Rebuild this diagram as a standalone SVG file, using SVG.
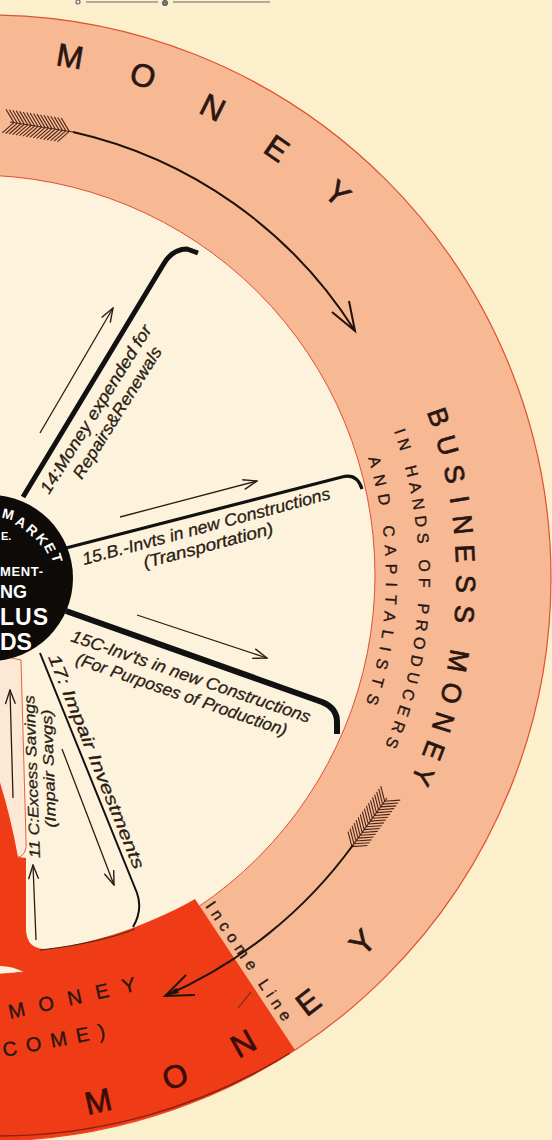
<svg xmlns="http://www.w3.org/2000/svg" width="552" height="1140" viewBox="0 0 552 1140">
<defs>
<style>
.lbl{font-family:"Liberation Sans Narrow","Liberation Sans",sans-serif;font-style:italic;fill:#2a1c14;stroke:#2a1c14;stroke-width:0.3}
.rt{font-family:"Liberation Sans","DejaVu Sans",sans-serif;fill:#2a1610;text-anchor:middle;stroke:#2a1610;stroke-width:0.7}
.st{font-family:"Liberation Sans","DejaVu Sans",sans-serif;fill:#2a1610;stroke:#2a1610;stroke-width:0.35}
.hub{font-family:"Liberation Sans",sans-serif;font-weight:bold;fill:#fff}
.thin{fill:none;stroke:#2a1c14;stroke-width:1.3}
.spoke{fill:none;stroke:#111;stroke-linejoin:round}
.fth{fill:none;stroke:#4a2418;stroke-width:1.1}
</style>
<marker id="ah" markerWidth="16" markerHeight="12" refX="15" refY="6" orient="auto" markerUnits="userSpaceOnUse">
<path d="M1,1 L15,6 L1,11" fill="none" stroke="#2a1c14" stroke-width="1.4"/>
</marker>
<g id="feather">
<path class="fth" d="M0 0H64M4 0l-10-12M4 0l-10 12M7.5 0l-10-12M7.5 0l-10 12M11 0l-10-12M11 0l-10 12M14.5 0l-10-12M14.5 0l-10 12M18 0l-10-12M18 0l-10 12M21.5 0l-10-12M21.5 0l-10 12M25 0l-10-12M25 0l-10 12M28.5 0l-10-12M28.5 0l-10 12M32 0l-10-12M32 0l-10 12M35.5 0l-10-12M35.5 0l-10 12M39 0l-10-12M39 0l-10 12M42.5 0l-10-12M42.5 0l-10 12M46 0l-10-12M46 0l-10 12M49.5 0l-10-12M49.5 0l-10 12M53 0l-10-12M53 0l-10 12M56.5 0l-10-12M56.5 0l-10 12M60 0l-10-12M60 0l-10 12"/>
</g>
</defs>

<rect width="552" height="1140" fill="#fcefcb"/>

<g id="scale-bar" stroke="#666" stroke-width="1.2" fill="none">
<line x1="86" y1="2" x2="158" y2="2"/><line x1="173" y1="2" x2="270" y2="2"/>
<circle cx="78" cy="2" r="2"/><circle cx="165" cy="3" r="2.5" fill="#777"/>
</g>

<g id="ring">
<circle cx="-12" cy="578" r="563" fill="#f6b994" stroke="#e24e32" stroke-width="1.2"/>
<circle cx="-25" cy="575" r="400" fill="#fdf3dc" stroke="#e24e32" stroke-width="1"/>
</g>

<g id="savings-channel">
<path d="M -25 650 L 21 660 L 26 840 Q 28 856 16 858 L -25 858 Z" fill="#fce8d4" stroke="#e05034" stroke-width="0.9"/>
</g>

<g id="income-money">
<path d="M 195 899 L 295 1050 A 563 563 0 0 1 -12 1141 L -25 1141 L -25 975 A 400 400 0 0 0 24 972 Q 12 966 0 966 L -25 966 L -25 770 L -4 770 Q 10 812 18 857 L 26 858 L 26 930 Q 27 950 47 949 C 85 945 140 930 195 899 Z" fill="#f03c16"/>
<path d="M 290 1053 A 558 558 0 0 1 -12 1136" fill="none" stroke="#8a2010" stroke-width="1.4"/>
<path d="M 40 950 C 85 945 118 936 135 929" fill="none" stroke="#3a2a20" stroke-width="1"/>
<line x1="238" y1="1008" x2="251" y2="992" stroke="#3a2a20" stroke-width="1"/>
</g>

<g id="connectors">
<path class="spoke" stroke-width="5" d="M 23 497 L 163 265 Q 172 249 187 249 L 198 253"/>
<path class="spoke" stroke-width="3.2" d="M 66 548 L 342 477 Q 357 473 362 489"/>
<path class="spoke" stroke-width="6" d="M 66 611 L 322 702 Q 337 708 337 722 L 337 734"/>
<path class="spoke" stroke-width="2" d="M 40 653 L 137 893 Q 143 910 133 927"/>
<line class="thin" x1="40" y1="433" x2="113" y2="308" marker-end="url(#ah)"/>
<line class="thin" x1="120" y1="517" x2="257" y2="481" marker-end="url(#ah)"/>
<line class="thin" x1="137" y1="615" x2="267" y2="658" marker-end="url(#ah)"/>
<line class="thin" x1="62" y1="749" x2="114" y2="885" marker-end="url(#ah)"/>
<line class="thin" x1="13" y1="798" x2="10" y2="690" marker-end="url(#ah)"/>
<line class="thin" x1="36" y1="940" x2="33" y2="865" marker-end="url(#ah)"/>
<use href="#feather" transform="translate(10,122) rotate(9)"/>
<path d="M 73 132 A 450 450 0 0 1 355 331" fill="none" stroke="#1e120c" stroke-width="2"/>
<path d="M 349 301 L 355 331 L 332 312" fill="none" stroke="#1e120c" stroke-width="2"/>
<use href="#feather" transform="translate(387,798) rotate(125.8)"/>
<path d="M 353 845 A 457 457 0 0 1 165 996" fill="none" stroke="#1e120c" stroke-width="2"/>
<path d="M 195 995 L 165 996 L 186 975" fill="none" stroke="#1e120c" stroke-width="1.8"/>
<polygon points="165,996 179,993 176.6,987.7" fill="#1e120c"/>
</g>

<g id="hub">
<circle cx="-10" cy="578" r="83" fill="#0e0a08"/>
<g class="hub" font-size="14" text-anchor="middle">
<text transform="translate(8,514) rotate(14)" y="5">M</text>
<text transform="translate(21,522) rotate(28)" y="5">A</text>
<text transform="translate(32,530) rotate(41)" y="5">R</text>
<text transform="translate(42,539) rotate(53)" y="5">K</text>
<text transform="translate(50,548) rotate(63)" y="5">E</text>
<text transform="translate(57,558) rotate(73)" y="5">T</text>
</g>
<text class="hub" x="1" y="540" font-size="11">E.</text>
<text class="hub" x="0" y="576" font-size="13" textLength="43">MENT-</text>
<text class="hub" x="0" y="598" font-size="18">NG</text>
<text class="hub" x="0" y="625" font-size="23" letter-spacing="1">LUS</text>
<text class="hub" x="0" y="650" font-size="23">DS</text>
</g>

<g id="money-top" class="rt" font-size="32">
<text transform="translate(70,56) rotate(9.6)" y="11.5">M</text>
<text transform="translate(143,75) rotate(17.8)" y="11.5">O</text>
<text transform="translate(213,107) rotate(26.2)" y="11.5">N</text>
<text transform="translate(277,148) rotate(34.5)" y="11.5">E</text>
<text transform="translate(338,193) rotate(42.8)" y="11.5">Y</text>
</g>

<g id="business-money" class="rt" font-size="27">
<text transform="translate(438.8,417) rotate(70.7)" y="9.6">B</text>
<text transform="translate(447.7,445.2) rotate(74.2)" y="9.6">U</text>
<text transform="translate(454.9,473.9) rotate(77.7)" y="9.6">S</text>
<text transform="translate(459.8,499.6) rotate(80.8)" y="9.6">I</text>
<text transform="translate(463.2,524.7) rotate(83.8)" y="9.6">N</text>
<text transform="translate(465.4,553.4) rotate(87.2)" y="9.6">E</text>
<text transform="translate(466,583.8) rotate(90.8)" y="9.6">S</text>
<text transform="translate(464.6,614.1) rotate(94.4)" y="9.6">S</text>
<text transform="translate(458.6,661) rotate(100)" y="9.6">M</text>
<text transform="translate(451.8,693.3) rotate(103.9)" y="9.6">O</text>
<text transform="translate(443.6,722.5) rotate(107.5)" y="9.6">N</text>
<text transform="translate(433.9,750.5) rotate(111)" y="9.6">E</text>
<text transform="translate(423.1,776.2) rotate(114.3)" y="9.6">Y</text>
</g>
<g id="producers-text">
<path id="arcHands" d="M 393.9 431.1 A 437 437 0 0 1 360.5 795.5" fill="none"/>
<path id="arcCap" d="M 368.1 458.2 A 404 404 0 0 1 331.9 779" fill="none"/>
<text class="st" font-size="16" letter-spacing="5.6"><textPath href="#arcHands">IN HANDS OF PRODUCERS</textPath></text>
<text class="st" font-size="16" letter-spacing="7.8"><textPath href="#arcCap">AND CAPITALISTS</textPath></text>
</g>

<g id="money-bottom" class="rt" font-size="32">
<text transform="translate(98,1101) rotate(-12.4)" y="11.5" fill="#3a0d05" stroke="#3a0d05">M</text>
<text transform="translate(175,1076) rotate(-21.3)" y="11.5" fill="#3a0d05" stroke="#3a0d05">O</text>
<text transform="translate(243,1043) rotate(-29.3)" y="11.5" fill="#3a0d05" stroke="#3a0d05">N</text>
<text transform="translate(308,1002) rotate(-37.5)" y="11.5">E</text>
<text transform="translate(362,942) rotate(-46.2)" y="11.5">Y</text>
</g>
<g id="income-label">
<text class="st" font-size="20" fill="#3a0d05" transform="translate(10,1019) rotate(-12.6)" textLength="130">MONEY</text>
<text class="st" font-size="20" fill="#3a0d05" transform="translate(4,1057) rotate(-11)" textLength="104">COME)</text>
<text class="st" font-size="16" transform="translate(205,906) rotate(56)" textLength="140">Income Line</text>
</g>

<g id="label-14" class="lbl" font-size="17" transform="translate(49,495) rotate(-58)">
<text textLength="195" lengthAdjust="spacingAndGlyphs">14:Money expended for</text>
<text x="30" y="20" textLength="152" lengthAdjust="spacingAndGlyphs">Repairs&amp;Renewals</text>
</g>
<g id="label-15b" class="lbl" font-size="17" transform="translate(84,565) rotate(-15)">
<text textLength="256" lengthAdjust="spacingAndGlyphs">15.B.-Invts in new Constructions</text>
<text x="58" y="19" textLength="134" lengthAdjust="spacingAndGlyphs">(Transportation)</text>
</g>
<g id="label-15c" class="lbl" font-size="17" transform="translate(70,641) rotate(19)">
<text textLength="252" lengthAdjust="spacingAndGlyphs">15C-Inv'ts in new Constructions</text>
<text x="12" y="20" textLength="222" lengthAdjust="spacingAndGlyphs">(For Purposes of Production)</text>
</g>
<g id="label-17" class="lbl" font-size="17" transform="translate(48,657) rotate(68)">
<text textLength="230" lengthAdjust="spacingAndGlyphs">17: Impair  Investments</text>
</g>
<g id="label-11c" class="lbl" font-size="15" transform="translate(40,858) rotate(-92)">
<text textLength="163" lengthAdjust="spacingAndGlyphs">11 C:Excess Savings</text>
<text x="30" y="17" textLength="118" lengthAdjust="spacingAndGlyphs">(Impair Savgs)</text>
</g>
</svg>
